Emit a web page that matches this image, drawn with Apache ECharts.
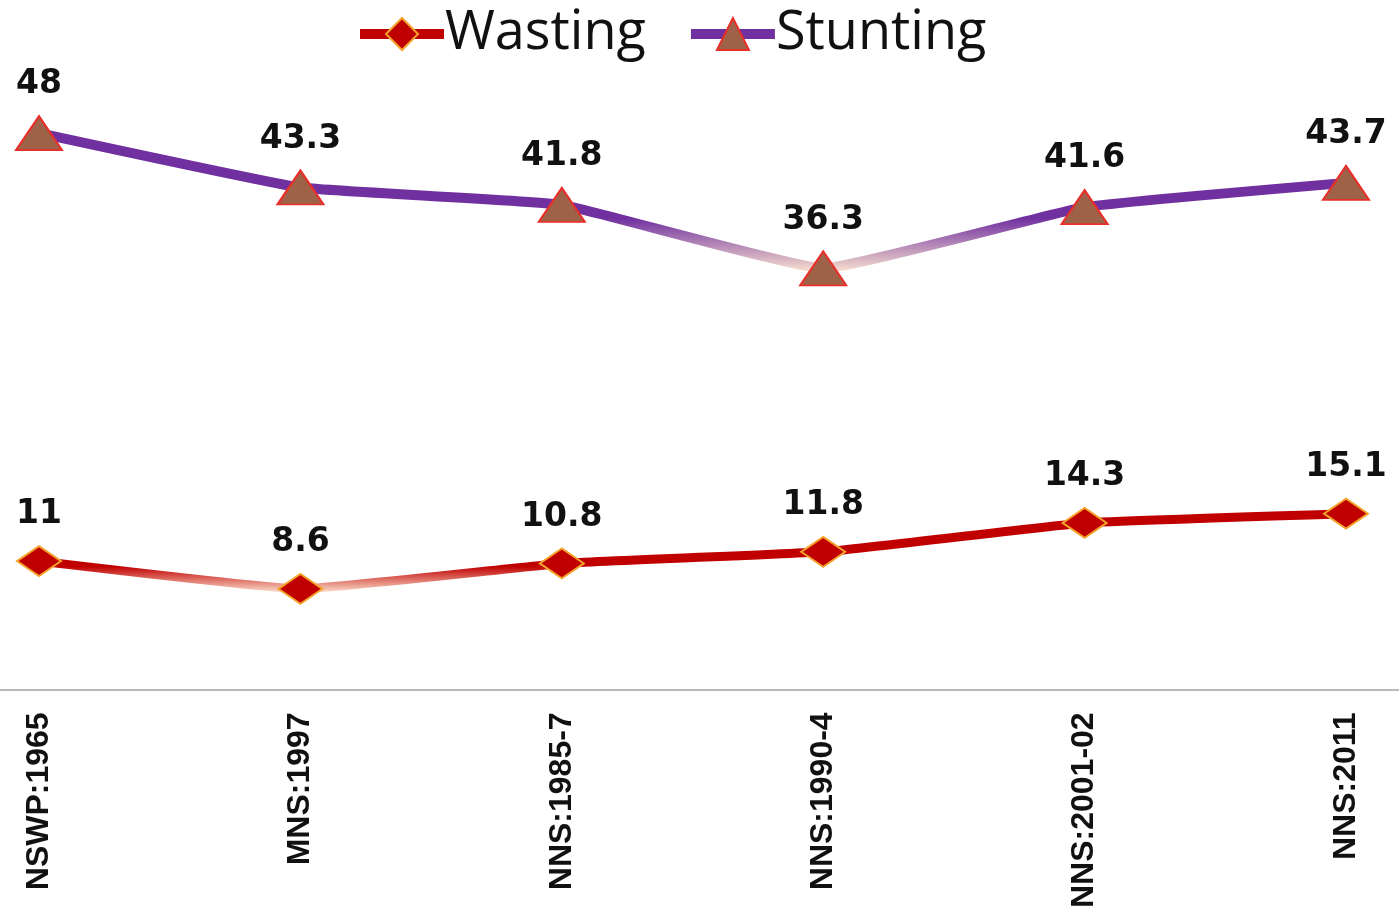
<!DOCTYPE html>
<html>
<head>
<meta charset="utf-8">
<script src="https://cdn.jsdelivr.net/npm/echarts@6/dist/echarts.min.js"></script>
<style>html,body{margin:0;padding:0;background:#fff;}#c{width:1399px;height:911px;}</style>
</head>
<body>
<div id="c"></div>
<script>
const categories = ['NSWP:1965', 'MNS:1997', 'NNS:1985-7', 'NNS:1990-4', 'NNS:2001-02', 'NNS:2011'];
const wasting = [11, 8.6, 10.8, 11.8, 14.3, 15.1];
const stunting = [48, 43.3, 41.8, 36.3, 41.6, 43.7];

const chart = echarts.init(document.getElementById('c'));
const grad = (c1, c2, s) => new echarts.graphic.LinearGradient(0, 0, 0, 1, [
  {offset: 0, color: c1}, {offset: s, color: c1}, {offset: 1, color: c2}
]);
const labelStyle = {
  show: true, position: 'top', distance: 14,
  fontFamily: 'DejaVu Sans', fontWeight: 'bold', fontSize: 33, color: '#111'
};
chart.setOption({
  animation: false,
  backgroundColor: '#fff',
  legend: {
    top: 2, left: 350, itemGap: 40, itemWidth: 84, itemHeight: 40,
    textStyle: {fontFamily: 'Open Sans', fontSize: 54, color: '#111', padding: [0,0,0,-4]},
    data: [
      {name: 'Wasting', lineStyle: {color: '#C00000', width: 10}},
      {name: 'Stunting', lineStyle: {color: '#7030A0', width: 10}}
    ]
  },
  grid: {left: 39, right: 53, top: 110, bottom: 221},
  xAxis: {
    type: 'category', boundaryGap: false, data: categories,
    axisLine: {show: false}, axisTick: {show: false},
    axisLabel: {
      rotate: 90, margin: 24, fontFamily: 'Liberation Sans', fontWeight: 'bold',
      fontSize: 32, color: '#111'
    }
  },
  yAxis: {type: 'value', min: 0, max: 50, show: false, splitLine: {show: false}},
  graphic: [{
    type: 'line', shape: {x1: 0, y1: 690, x2: 1399, y2: 690},
    style: {stroke: '#A0A0A0', lineWidth: 1.5}, z: 0
  }],
  series: [
    {
      name: 'Wasting', type: 'line', data: wasting, smooth: 0.1,
      symbol: 'diamond', symbolSize: [44, 30],
      lineStyle: {width: 9, color: grad('#C00000', '#FDE6D2', 0.68)},
      itemStyle: {color: '#C00000', borderColor: '#F4A32C', borderWidth: 2},
      label: labelStyle, z: 3
    },
    {
      name: 'Stunting', type: 'line', data: stunting, smooth: 0.1,
      symbol: 'triangle', symbolSize: [46, 34],
      lineStyle: {width: 10, color: grad('#7030A0', '#FDE6D0', 0.62)},
      itemStyle: {color: '#9E6249', borderColor: '#E8302A', borderWidth: 2},
      label: labelStyle, z: 3
    }
  ]
});
</script>
</body>
</html>
